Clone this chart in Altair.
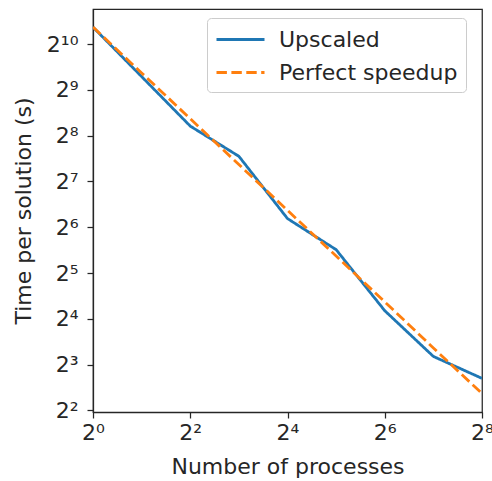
import altair as alt
import pandas as pd

processes = [1, 2, 4, 8, 16, 32, 64, 128, 256]
upscaled = [1323.5, 626.0, 296.0, 187.4, 73.0, 45.6, 18.1, 9.06, 6.50]
perfect = [1323.5, 661.8, 330.9, 165.4, 82.7, 41.4, 20.7, 10.3, 5.17]

series_names = ["Upscaled", "Perfect speedup"]
x_ticks = [1, 4, 16, 64, 256]
y_ticks = [4, 8, 16, 32, 64, 128, 256, 512, 1024]
x_tick_labels = ["2⁰", "2²", "2⁴", "2⁶", "2⁸"]
y_tick_labels = ["2²", "2³", "2⁴", "2⁵", "2⁶", "2⁷", "2⁸", "2⁹", "2¹⁰"]

rows = []
for x, u in zip(processes, upscaled):
    rows.append({"processes": x, "time": u, "series": "Upscaled"})
for x, p in zip(processes, perfect):
    rows.append({"processes": x, "time": p, "series": "Perfect speedup"})
df = pd.DataFrame(rows)


def label_expr(vals, labels):
    expr = "''"
    for v, l in reversed(list(zip(vals, labels))):
        expr = f"datum.value == {v} ? '{l}' : ({expr})"
    return expr


FONT = "DejaVu Sans"
TXT = "#262626"

legend = alt.Legend(
    title=None,
    orient="none",
    legendX=114,
    legendY=9,
    symbolType="M-1,0H3",
    symbolSize=576,
    symbolStrokeWidth=2.8,
    labelFont=FONT,
    labelFontSize=22,
    labelColor=TXT,
    fillColor="rgba(255,255,255,0.8)",
    strokeColor="#cccccc",
    cornerRadius=4,
    padding=8,
    rowPadding=8,
    labelOffset=37,
    labelLimit=400,
)

color = alt.Color(
    "series:N",
    scale=alt.Scale(domain=series_names, range=["#1f77b4", "#ff7f0e"]),
    legend=legend,
)
dash = alt.StrokeDash(
    "series:N",
    scale=alt.Scale(domain=series_names, range=[[1, 0], [10.4, 4.5]]),
    legend=legend,
)

x_enc = alt.X(
    "processes:Q",
    scale=alt.Scale(type="log", base=2, domain=[1, 256], nice=False),
    axis=alt.Axis(
        title="Number of processes",
        values=x_ticks,
        labelExpr=label_expr(x_ticks, x_tick_labels),
        labelFlush=False,
        labelPadding=4,
        titlePadding=13,
    ),
)
y_enc = alt.Y(
    "time:Q",
    scale=alt.Scale(type="log", base=2, domain=[3.907, 1741.6], nice=False),
    axis=alt.Axis(
        title="Time per solution (s)",
        values=y_ticks,
        labelExpr=label_expr(y_ticks, y_tick_labels),
        labelPadding=9,
        titlePadding=11,
    ),
)

base = alt.Chart(df)
blue = base.transform_filter(alt.datum.series == "Upscaled").mark_line(
    strokeWidth=2.8, clip=True
).encode(x=x_enc, y=y_enc, color=color, strokeDash=dash)
orange = base.transform_filter(alt.datum.series == "Perfect speedup").mark_line(
    strokeWidth=2.8, clip=True
).encode(x=x_enc, y=y_enc, color=color, strokeDash=dash)

chart = (
    alt.layer(blue, orange)
    .properties(
        width=389,
        height=403,
        autosize=alt.AutoSizeParams(type="none"),
        padding={"left": 93, "top": 9, "right": 10, "bottom": 69},
        background="white",
    )
    .configure_view(stroke=TXT, strokeWidth=1.25)
    .configure_axis(
        grid=False,
        domainColor=TXT,
        domainWidth=1.25,
        tickColor=TXT,
        tickWidth=1.25,
        tickSize=6,
        labelFont=FONT,
        labelFontSize=22,
        labelColor=TXT,
        titleFont=FONT,
        titleFontSize=22,
        titleFontWeight="normal",
        titleColor=TXT,
    )
)

chart.save("out.html", embed_options={"renderer": "svg", "actions": False})
